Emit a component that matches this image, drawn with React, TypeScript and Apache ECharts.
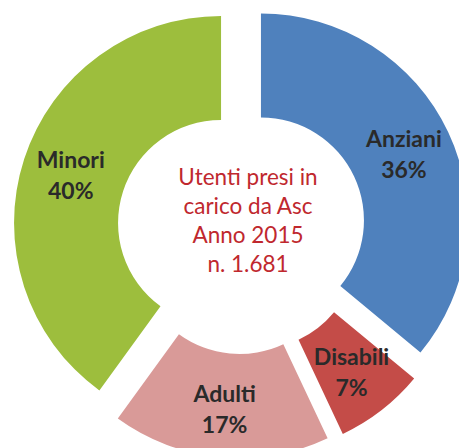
import React, { useEffect, useRef } from "react";
import * as echarts from "echarts";

const categories = ["Anziani", "Disabili", "Adulti", "Minori"];
const values = [36, 7, 17, 40];
const colors = ["#4f81bd", "#c44c48", "#d99a98", "#9dbe3d"];
const centerLines = ["Utenti presi in", "carico da Asc", "Anno 2015", "n. 1.681"];

export default function App() {
  const ref = useRef<HTMLDivElement>(null);
  useEffect(() => {
    if (!ref.current) return;
    const chart = echarts.init(ref.current, undefined, { renderer: "svg" });
    chart.setOption({
      animation: false,
      backgroundColor: "#ffffff",
      series: [
        {
          type: "pie",
          center: [241.5, 229.6],
          radius: [103, 207],
          startAngle: 90,
          clockwise: true,
          selectedMode: "multiple",
          selectedOffset: 21.5,
          avoidLabelOverlap: false,
          emphasis: { disabled: true },
          label: {
            show: true,
            position: "inside",
            formatter: "{b}\n{d}%",
            fontFamily: "Lato",
            fontWeight: "bold",
            fontSize: 23,
            lineHeight: 31,
            color: "#2a2a2a",
          },
          labelLine: { show: false },
          data: categories.map((name, i) => ({
            name,
            value: values[i],
            selected: true,
            itemStyle: { color: colors[i] },
            select: { itemStyle: { color: colors[i] } },
          })),
        },
      ],
      graphic: [
        {
          type: "text",
          x: 248,
          y: 219.5,
          silent: true,
          style: {
            text: centerLines.join("\n"),
            textAlign: "center",
            textVerticalAlign: "middle",
            fontFamily: "Lato",
            fontSize: 22.5,
            lineHeight: 29,
            fill: "#c0282e",
          },
        },
      ],
    });
    return () => chart.dispose();
  }, []);
  return (
    <div
      ref={ref}
      style={{ position: "absolute", left: 0, top: 0, width: 459, height: 448 }}
    />
  );
}
